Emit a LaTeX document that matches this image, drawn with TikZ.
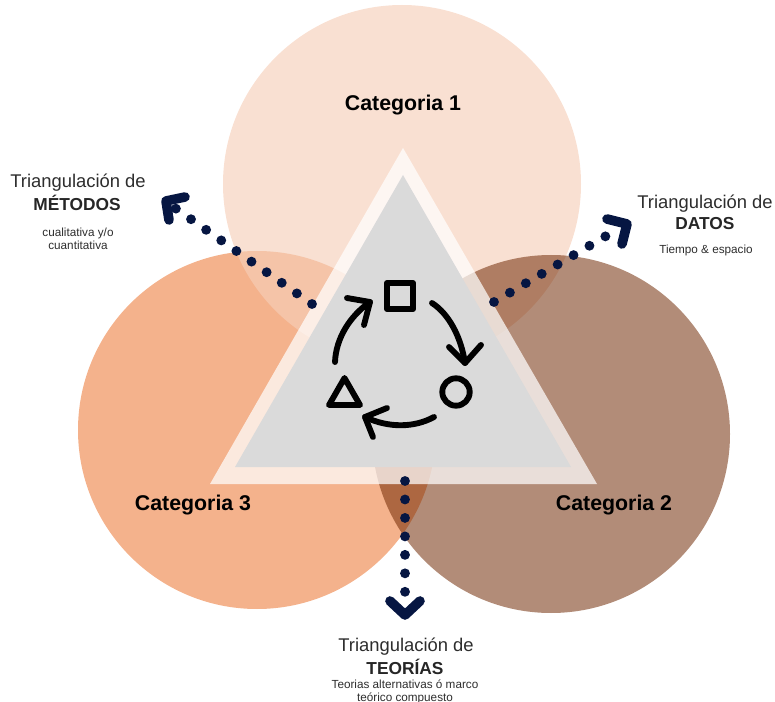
\documentclass[tikz,border=0pt]{standalone}
\usepackage{fontspec}
\setmainfont{Liberation Sans}
\definecolor{navy}{RGB}{6,22,66}
\definecolor{inktext}{RGB}{45,45,45}
\tikzset{
  every picture/.style={line width=0.75pt},
  circulo/.style={draw=none,fill opacity=#1},
  puntos/.style={line width=7.4pt,color=navy,line cap=round,dash pattern=on 0pt off 13.85pt},
  punta/.style={line width=7.2pt,color=navy,line cap=round,line join=round},
  icono/.style={line width=4.4pt,color=black,line cap=round,line join=round},
  categoria/.style={font=\bfseries\fontsize{16}{18}\selectfont,color=black},
  titulo/.style={font=\fontsize{13.8}{15}\selectfont,color=inktext},
  tipo/.style={font=\bfseries\fontsize{13}{15}\selectfont,color=black!85},
  nota/.style={font=\fontsize{8.8}{9.6}\selectfont,color=inktext,align=center}
}
\begin{document}
\begin{tikzpicture}[x=0.75pt,y=0.75pt,yscale=-1,xscale=1]
	\useasboundingbox (0,0) rectangle (775,702);

	%Shape: Circles
	\fill [circulo=1, color={rgb, 255:red, 244; green, 178; blue, 140 }] (257,430) circle (179);
	\fill [circulo=0.64, color={rgb, 255:red, 246; green, 207; blue, 185 }] (402,184) circle (179);
	\fill [circulo=0.53, color={rgb, 255:red, 110; green, 38; blue, 0 }] (551,434) circle (179);
	%Shape: Triangles
	\fill [white, fill opacity=0.72] (403,148) -- (597,484) -- (210,484) -- cycle;
	\fill [color={rgb, 255:red, 218; green, 218; blue, 218 }] (403,175) -- (571,467) -- (235,467) -- cycle;

	%Shape: Dotted connectors
	\coordinate (metodosA) at (312,304);
	\coordinate (metodosB) at (175,208);
	\coordinate (datosA) at (494,302);
	\coordinate (datosB) at (606,236);
	\coordinate (teoriasA) at (405,481);
	\coordinate (teoriasB) at (405,592);
	\draw [puntos] (metodosA) -- (metodosB);
	\draw [puntos] (datosA) -- (datosB);
	\draw [puntos] (teoriasA) -- (teoriasB);
	%Shape: Chevrons
	\draw [punta] (185,197) -- (166,201) -- (169,220);
	\draw [punta] (607,219) -- (627,224) -- (622,244);
	\draw [punta] (390,601) -- (405,615) -- (420,601);

	%Shape: Icon
	\draw [icono] (387,283) rectangle (413,309);
	\draw [icono] (456,392) circle (13.7);
	\draw [icono] (344.5,378) -- (360,405) -- (329,405) -- cycle;
	\draw [icono] (432,303) .. controls (449,314) and (461,337) .. (465,363);
	\draw [icono] (449,347) -- (465,363) -- (481,345);
	\draw [icono] (434,417) .. controls (414,428) and (388,428) .. (365,417);
	\draw [icono] (387,408) -- (365,417) -- (373,437);
	\draw [icono] (335,362) .. controls (336,338) and (350,316) .. (370,302);
	\draw [icono] (347,298) -- (370,302) -- (364,325);

	% Text Node
	\node [categoria] (cat1) at (403,105) {Categoria 1};
	% Text Node
	\node [categoria] (cat2) at (614,505) {Categoria 2};
	% Text Node
	\node [categoria] (cat3) at (193,505) {Categoria 3};
	% Text Node
	\node [titulo] (trimetodos) at (78,183) {Triangulación de};
	\node [tipo] (metodos) at (77,203) {MÉTODOS};
	\node [nota] (notametodos) at (78,238.5) {cualitativa y/o\\cuantitativa};
	% Text Node
	\node [titulo] (tridatos) at (705,204) {Triangulación de};
	\node [tipo] (datos) at (705,224) {DATOS};
	\node [nota] (notadatos) at (706,250) {Tiempo \& espacio};
	% Text Node
	\node [titulo] (triteorias) at (406,647) {Triangulación de};
	\node [tipo] (teorias) at (405,667) {TEORÍAS};
	\node [nota] (notateorias) at (405,691.5) {Teorias alternativas ó marco\\teórico compuesto};
\end{tikzpicture}
\end{document}
